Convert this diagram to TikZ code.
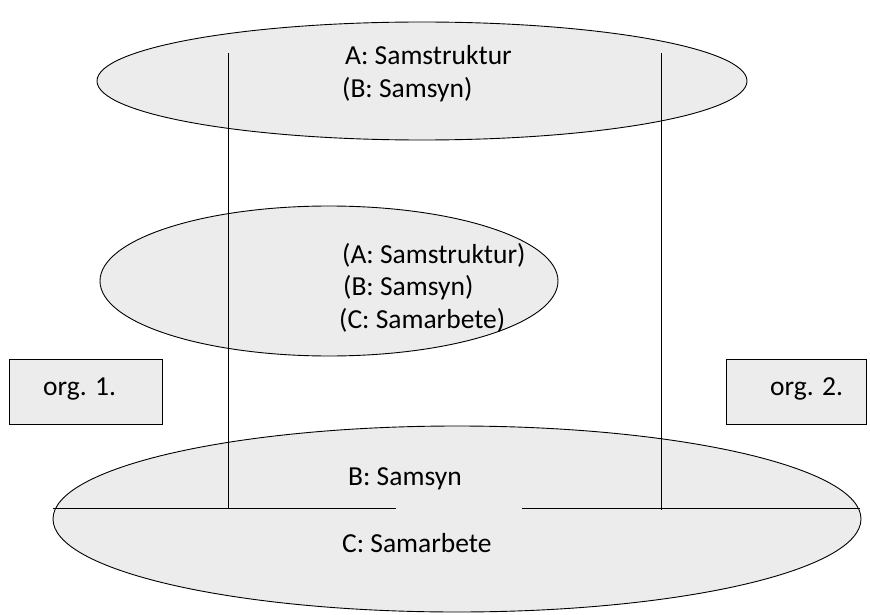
\documentclass[tikz,border=0pt]{standalone}
\usepackage{fontspec}
\setmainfont{Carlito}
\tikzset{
  ell/.style={draw=black, fill=gray!15, line width=0.9pt},
  orgbox/.style={draw=black, fill=gray!15, line width=0.8pt},
  lbl/.style={font=\fontsize{27.5}{32}\selectfont, inner sep=0pt, anchor=base west},
  conn/.style={draw=black, line width=0.8pt}
}
\begin{document}
\begin{tikzpicture}[x=1pt,y=-1pt]
\useasboundingbox (0,0) rectangle (870,615);
% ellipses
\path[ell] (422,81) ellipse [x radius=325, y radius=59];
\path[ell] (329,281) ellipse [x radius=229, y radius=75];
\path[ell] (457,519) ellipse [x radius=404, y radius=93];
% boxes
\node[orgbox, minimum width=153pt, minimum height=65pt, inner sep=0pt] (o1) at (85.5,391.5) {};
\node[orgbox, minimum width=140pt, minimum height=65pt, inner sep=0pt] (o2) at (796,391.5) {};
\node[lbl] (o1t) at (43,395) {org. 1.};
\node[lbl] (o2t) at (770,395) {org. 2.};
% texts
\node[lbl] (t1) at (345,65) {A: Samstruktur};
\node[lbl] (t2) at (342,98) {(B: Samsyn)};
\node[lbl] (m1) at (342,263) {(A: Samstruktur)};
\node[lbl] (m2) at (343,295) {(B: Samsyn)};
\node[lbl] (m3) at (339,328) {(C: Samarbete)};
\node[lbl] (b1) at (348,485) {B: Samsyn};
\node[lbl] (b2) at (342,552) {C: Samarbete};
% lines
\coordinate (v1t) at (228,53);
\coordinate (v1b) at (228,508);
\coordinate (v2t) at (661,53);
\coordinate (v2b) at (661,510);
\coordinate (hl1) at (53,508);
\coordinate (hl2) at (396,508);
\coordinate (hr1) at (522,508);
\coordinate (hr2) at (860,508);
\draw[conn] (v1t) -- (v1b);
\draw[conn] (v2t) -- (v2b);
\draw[conn] (hl1) -- (hl2);
\draw[conn] (hr1) -- (hr2);
\end{tikzpicture}
\end{document}
